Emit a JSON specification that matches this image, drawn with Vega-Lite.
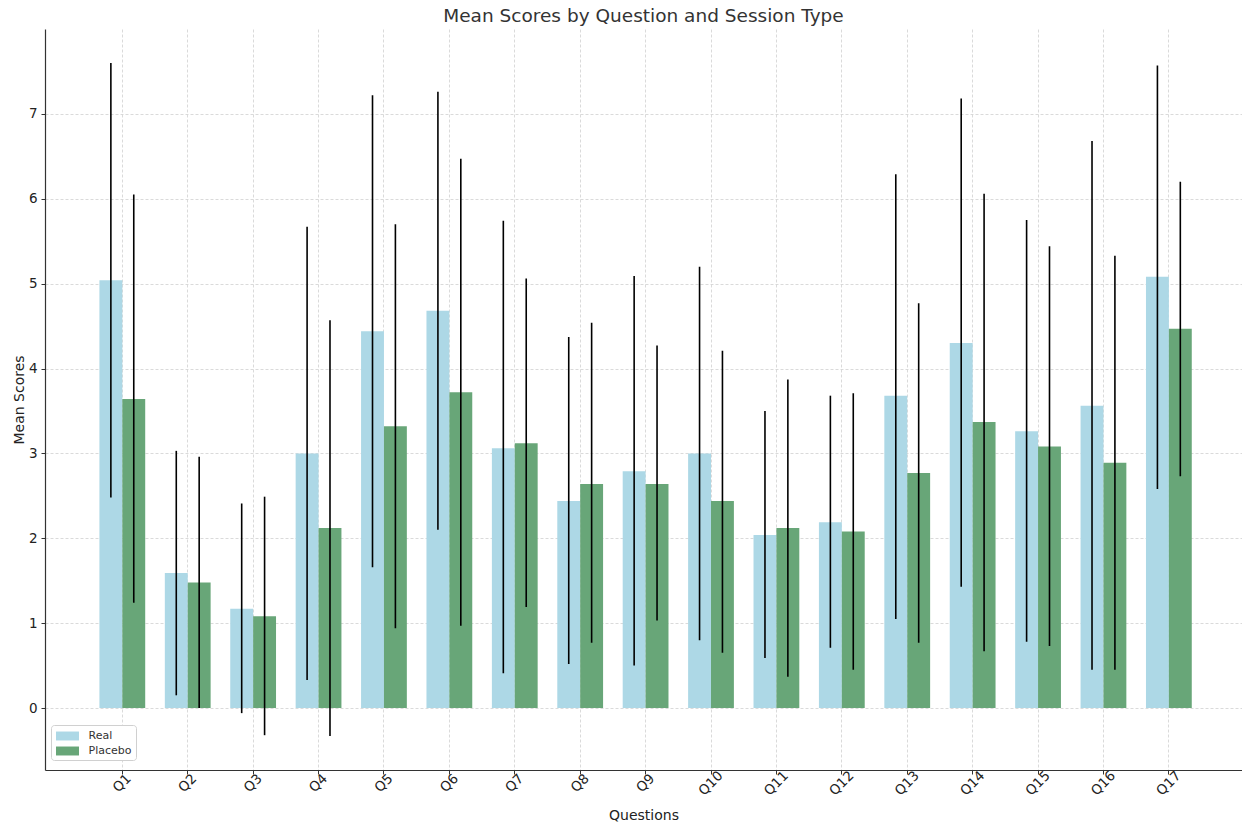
{
  "$schema": "https://vega.github.io/schema/vega-lite/v6.json",
  "autosize": {"type": "none"},
  "padding": {"left": 45, "top": 29, "right": 0, "bottom": 52},
  "width": 1197,
  "height": 741,
  "background": "white",
  "title": {"text": "Mean Scores by Question and Session Type", "fontSize": 18.5, "font": "DejaVu Sans", "fontWeight": "normal", "color": "#333333", "offset": 4},
  "config": {
    "font": "DejaVu Sans",
    "view": {"stroke": null},
    "axis": {"labelFont": "DejaVu Sans", "titleFont": "DejaVu Sans", "labelFontSize": 13.5, "titleFontSize": 14, "titleFontWeight": "normal", "labelColor": "#222222", "titleColor": "#222222", "domainColor": "#333333", "tickColor": "#333333", "tickSize": 4, "gridColor": "#d0d0d0", "gridDash": [3, 2], "gridWidth": 0.8}
  },
  "data": {"values": [
    {"q": "Q1", "s": "Real", "m": 5.04, "lo": 2.48, "hi": 7.60},
    {"q": "Q1", "s": "Placebo", "m": 3.64, "lo": 1.24, "hi": 6.05},
    {"q": "Q2", "s": "Real", "m": 1.59, "lo": 0.15, "hi": 3.03},
    {"q": "Q2", "s": "Placebo", "m": 1.48, "lo": 0.0, "hi": 2.96},
    {"q": "Q3", "s": "Real", "m": 1.17, "lo": -0.06, "hi": 2.41},
    {"q": "Q3", "s": "Placebo", "m": 1.08, "lo": -0.32, "hi": 2.49},
    {"q": "Q4", "s": "Real", "m": 3.00, "lo": 0.33, "hi": 5.67},
    {"q": "Q4", "s": "Placebo", "m": 2.12, "lo": -0.33, "hi": 4.57},
    {"q": "Q5", "s": "Real", "m": 4.44, "lo": 1.66, "hi": 7.22},
    {"q": "Q5", "s": "Placebo", "m": 3.32, "lo": 0.94, "hi": 5.70},
    {"q": "Q6", "s": "Real", "m": 4.68, "lo": 2.10, "hi": 7.26},
    {"q": "Q6", "s": "Placebo", "m": 3.72, "lo": 0.97, "hi": 6.47},
    {"q": "Q7", "s": "Real", "m": 3.06, "lo": 0.41, "hi": 5.74},
    {"q": "Q7", "s": "Placebo", "m": 3.12, "lo": 1.19, "hi": 5.06},
    {"q": "Q8", "s": "Real", "m": 2.44, "lo": 0.52, "hi": 4.37},
    {"q": "Q8", "s": "Placebo", "m": 2.64, "lo": 0.77, "hi": 4.54},
    {"q": "Q9", "s": "Real", "m": 2.79, "lo": 0.50, "hi": 5.09},
    {"q": "Q9", "s": "Placebo", "m": 2.64, "lo": 1.03, "hi": 4.27},
    {"q": "Q10", "s": "Real", "m": 3.00, "lo": 0.80, "hi": 5.20},
    {"q": "Q10", "s": "Placebo", "m": 2.44, "lo": 0.65, "hi": 4.21},
    {"q": "Q11", "s": "Real", "m": 2.04, "lo": 0.59, "hi": 3.50},
    {"q": "Q11", "s": "Placebo", "m": 2.12, "lo": 0.37, "hi": 3.87},
    {"q": "Q12", "s": "Real", "m": 2.19, "lo": 0.71, "hi": 3.68},
    {"q": "Q12", "s": "Placebo", "m": 2.08, "lo": 0.45, "hi": 3.71},
    {"q": "Q13", "s": "Real", "m": 3.68, "lo": 1.05, "hi": 6.29},
    {"q": "Q13", "s": "Placebo", "m": 2.77, "lo": 0.77, "hi": 4.77},
    {"q": "Q14", "s": "Real", "m": 4.30, "lo": 1.43, "hi": 7.18},
    {"q": "Q14", "s": "Placebo", "m": 3.37, "lo": 0.67, "hi": 6.06},
    {"q": "Q15", "s": "Real", "m": 3.26, "lo": 0.78, "hi": 5.75},
    {"q": "Q15", "s": "Placebo", "m": 3.08, "lo": 0.73, "hi": 5.44},
    {"q": "Q16", "s": "Real", "m": 3.56, "lo": 0.45, "hi": 6.68},
    {"q": "Q16", "s": "Placebo", "m": 2.89, "lo": 0.45, "hi": 5.33},
    {"q": "Q17", "s": "Real", "m": 5.08, "lo": 2.58, "hi": 7.57},
    {"q": "Q17", "s": "Placebo", "m": 4.47, "lo": 2.73, "hi": 6.20}
  ]},
  "encoding": {
    "x": {"field": "q", "type": "nominal", "sort": null,
      "scale": {"paddingInner": 0.3, "paddingOuter": 0.8, "align": 0.52},
      "axis": {"title": "Questions", "grid": true, "tickBand": "center", "labelAngle": -45, "labelAlign": "center", "labelBaseline": "middle", "labelPadding": 9, "titleY": 38, "domainWidth": 1.2}},
    "xOffset": {"field": "s", "type": "nominal", "sort": ["Real", "Placebo"], "scale": {"paddingInner": 0, "paddingOuter": 0}}
  },
  "layer": [
    {
      "mark": {"type": "bar", "opacity": 1},
      "encoding": {
        "y": {"field": "m", "type": "quantitative",
          "scale": {"domain": [-0.73, 8.0], "nice": false, "zero": false},
          "axis": {"title": "Mean Scores", "values": [0, 1, 2, 3, 4, 5, 6, 7], "format": "d", "grid": true, "titleX": -19, "labelPadding": 4, "domainWidth": 1.2}},
        "color": {"field": "s", "type": "nominal", "sort": ["Real", "Placebo"],
          "scale": {"domain": ["Real", "Placebo"], "range": ["#add8e6", "#68a678"]},
          "legend": {"title": null, "orient": "none", "legendX": 6, "legendY": 696, "direction": "vertical",
            "fillColor": "white", "strokeColor": "#d0d0d0", "cornerRadius": 3, "padding": 4,
            "symbolType": "M-1.64,-0.64H1.64V0.64H-1.64Z", "symbolSize": 196, "symbolStrokeWidth": 0, "symbolOpacity": 1, "symbolOffset": 5.5,
            "labelFontSize": 11, "labelColor": "#333333", "labelFont": "DejaVu Sans", "rowPadding": 3, "labelOffset": 14}}
      }
    },
    {
      "mark": {"type": "rule", "color": "black", "strokeWidth": 1.6},
      "encoding": {
        "y": {"field": "lo", "type": "quantitative"},
        "y2": {"field": "hi"}
      }
    }
  ]
}
